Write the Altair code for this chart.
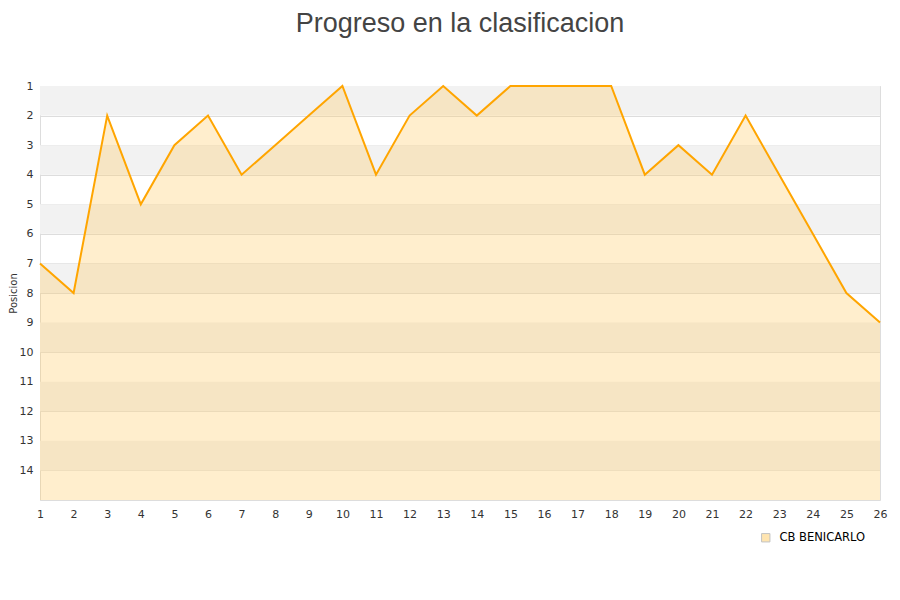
import altair as alt
import pandas as pd

jornadas = list(range(1, 27))
posiciones = [7, 8, 2, 5, 3, 2, 4, 3, 2, 1, 4, 2, 1, 2, 1, 1, 1, 1, 4, 3, 4, 2, 4, 6, 8, 9]
equipo = "CB BENICARLO"
band_starts = [1, 3, 5, 7, 9, 11, 13]
y_ticks = list(range(1, 15))

df = pd.DataFrame({"jornada": jornadas, "posicion": posiciones, "equipo": equipo})
bands = pd.DataFrame({"y": band_starts, "y2": [b + 1 for b in band_starts]})

x_scale = alt.Scale(domain=[1, 26], nice=False, zero=False)
y_scale = alt.Scale(domain=[1, 15], reverse=True, nice=False, zero=False)

x_axis = alt.Axis(values=jornadas, grid=False, ticks=False, domain=False,
                  labelPadding=8, labelOverlap=False, labelFlush=False,
                  format="d")
y_axis = alt.Axis(values=y_ticks, grid=True, gridColor="#dddddd",
                  ticks=False, domain=True, domainColor="#dddddd",
                  labelPadding=7, titlePadding=1, labelOverlap=False,
                  labelFlush=False, format="d")

band_layer = alt.Chart(bands).mark_rect(color="#f2f2f2").encode(
    x=alt.value(0),
    x2=alt.value(840),
    y=alt.Y("y:Q", scale=y_scale, axis=y_axis, title="Posicion"),
    y2="y2:Q",
)

area = alt.Chart(df).mark_area(opacity=0.33).encode(
    x=alt.X("jornada:Q", scale=x_scale, axis=x_axis, title=None),
    y=alt.Y("posicion:Q", scale=y_scale, axis=y_axis, title="Posicion"),
    y2=alt.datum(15),
    color=alt.Color(
        "equipo:N",
        scale=alt.Scale(range=["#ffcc66"]),
        legend=alt.Legend(
            title=None, orient="none", legendX=720, legendY=446,
            symbolType="square", symbolSize=70, symbolStrokeColor="#888",
            symbolStrokeWidth=1, symbolOpacity=0.5, labelFontSize=11.5,
            labelColor="#000", labelFont="DejaVu Sans", labelOffset=8,
        ),
    ),
)

line = alt.Chart(df).mark_line(color="#ffa500", strokeWidth=2).encode(
    x=alt.X("jornada:Q", scale=x_scale, axis=x_axis, title=None),
    y=alt.Y("posicion:Q", scale=y_scale, axis=y_axis, title="Posicion"),
)

chart = alt.layer(band_layer, area, line).properties(
    width=840,
    height=414,
    autosize=alt.AutoSizeParams(type="none"),
    padding={"left": 32, "top": 78, "right": 12, "bottom": 92},
    title=alt.Title("Progreso en la clasificacion", fontSize=27,
                    font="Liberation Sans", fontWeight="normal",
                    color="#444444", anchor="middle", offset=42),
).configure_view(
    stroke="#dddddd"
).configure_axis(
    labelFont="DejaVu Sans", labelFontSize=11, labelColor="#333333",
    titleFont="DejaVu Sans", titleFontSize=10, titleColor="#333333",
    titleFontWeight="normal",
)

chart.save("out.html", embed_options={"renderer": "svg", "actions": False})
